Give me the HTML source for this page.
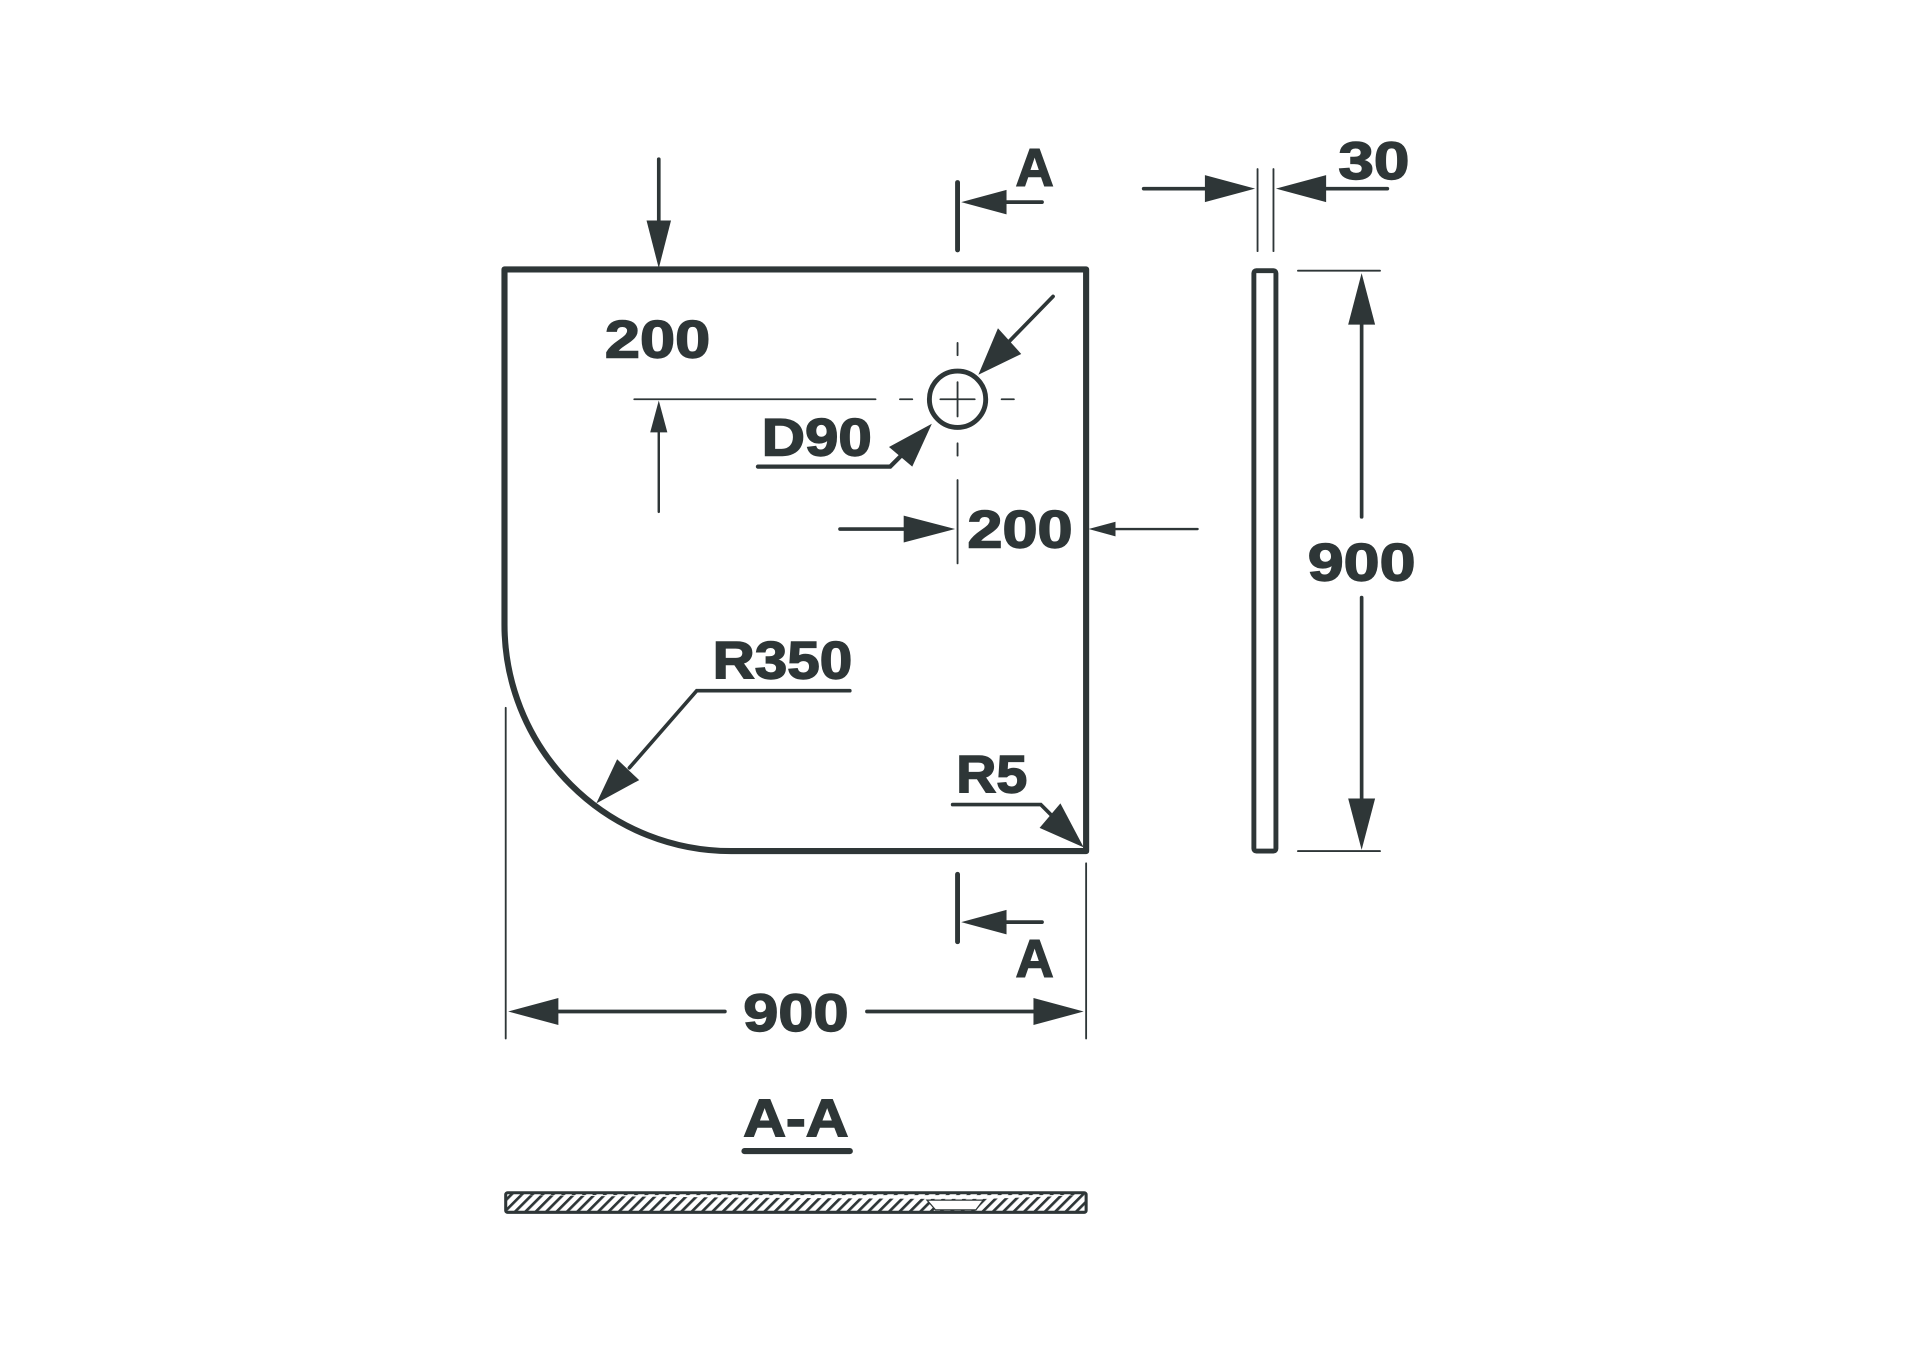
<!DOCTYPE html>
<html><head><meta charset="utf-8"><style>
html,body{margin:0;padding:0;background:#fff}
svg{display:block}
text{font-family:"Liberation Sans",sans-serif;font-weight:bold;fill:#2e3637;stroke:#2e3637;stroke-width:1.2;text-anchor:middle}
</style></head><body>
<svg width="1920" height="1352" viewBox="0 0 1568 1104" xmlns="http://www.w3.org/2000/svg">
<defs>
<pattern id="h" width="6" height="6" patternUnits="userSpaceOnUse" patternTransform="rotate(45)">
<rect width="6" height="6" fill="#fff"/><rect width="2.2" height="6" fill="#2e3637"/></pattern>
</defs>
<g stroke="#2e3637" fill="none" stroke-linecap="round">
<path d="M412,220 H887 V695 H597 A185,185 0 0 1 412,510 Z" stroke-width="5" stroke-linejoin="round"/>
<line x1="538" y1="130" x2="538" y2="182" stroke-width="3"/>
<line x1="518" y1="326" x2="715" y2="326" stroke-width="1.5"/>
<line x1="538" y1="350" x2="538" y2="418" stroke-width="2"/>
<circle cx="782" cy="326" r="23" stroke-width="4"/>
<line x1="768" y1="326" x2="796" y2="326" stroke-width="1.5"/>
<line x1="782" y1="312" x2="782" y2="340" stroke-width="1.5"/>
<g stroke-width="1.5"><line x1="735" y1="326" x2="745" y2="326"/><line x1="818" y1="326" x2="828" y2="326"/>
<line x1="782" y1="280" x2="782" y2="290"/><line x1="782" y1="362" x2="782" y2="372"/></g>
<line x1="860" y1="242" x2="823" y2="280" stroke-width="3"/>
<polyline points="619,381 727,381 742,366" stroke-width="3.5"/>
<line x1="686" y1="432" x2="740" y2="432" stroke-width="3"/>
<line x1="782" y1="392" x2="782" y2="460" stroke-width="1.5"/>
<line x1="910" y1="432" x2="978" y2="432" stroke-width="2"/>
<line x1="782" y1="149" x2="782" y2="204" stroke-width="4"/>
<line x1="818" y1="165" x2="851" y2="165" stroke-width="3"/>
<line x1="782" y1="714" x2="782" y2="769" stroke-width="4"/>
<line x1="818" y1="753" x2="851" y2="753" stroke-width="3"/>
<polyline points="694,564 569,564 514,627" stroke-width="3"/>
<polyline points="778,657 850,657 862,669" stroke-width="3"/>
<line x1="413" y1="578" x2="413" y2="848" stroke-width="1.5"/>
<line x1="887" y1="705" x2="887" y2="848" stroke-width="1.5"/>
<line x1="453" y1="826" x2="592" y2="826" stroke-width="3"/>
<line x1="708" y1="826" x2="847" y2="826" stroke-width="3"/>
<rect x="1024" y="221" width="18" height="474" rx="2" stroke-width="4"/>
<line x1="1060" y1="221" x2="1127" y2="221" stroke-width="1.5"/>
<line x1="1060" y1="695" x2="1127" y2="695" stroke-width="1.5"/>
<line x1="1112" y1="262" x2="1112" y2="422" stroke-width="3"/>
<line x1="1112" y1="488" x2="1112" y2="655" stroke-width="3"/>
<line x1="1027" y1="138" x2="1027" y2="205" stroke-width="1.5"/>
<line x1="1040" y1="138" x2="1040" y2="205" stroke-width="1.5"/>
<line x1="934" y1="154" x2="986" y2="154" stroke-width="3"/>
<line x1="1082" y1="154" x2="1133" y2="154" stroke-width="3"/>
<line x1="608" y1="940" x2="694" y2="940" stroke-width="5"/>
</g>
<g fill="#2e3637">
<polygon points="538,219 528,180 548,180"/>
<polygon points="538,327 531,353 545,353"/>
<polygon points="799,306 815,268 834,289"/>
<polygon points="761,346 726,365 745,381"/>
<polygon points="780,432 738,421 738,443"/>
<polygon points="889,432 911,426 911,438"/>
<polygon points="785,165 822,155 822,175"/>
<polygon points="785,753 822,743 822,763"/>
<polygon points="487,656 504,620 522,637"/>
<polygon points="885,692 849,676 866,656"/>
<polygon points="415,826 456,815 456,837"/>
<polygon points="885,826 844,815 844,837"/>
<polygon points="1112,223 1101,265 1123,265"/>
<polygon points="1112,694 1101,652 1123,652"/>
<polygon points="1025,154 984,143 984,165"/>
<polygon points="1042,154 1083,143 1083,165"/>
</g>
<rect x="413" y="974" width="474" height="16" fill="url(#h)" stroke="#2e3637" stroke-width="2.5" rx="1.5"/>
<polygon points="420,976 880,976 860,977 805,979 760,979 600,978" fill="#fff"/>
<polygon points="757,980 803,980 797,988 764,988" fill="#fff" stroke="#2e3637" stroke-width="1"/>
<g font-size="43">
<text x="537" y="292" textLength="86" lengthAdjust="spacingAndGlyphs">200</text>
<text x="667" y="372" textLength="90" lengthAdjust="spacingAndGlyphs">D90</text>
<text x="833" y="447" textLength="86" lengthAdjust="spacingAndGlyphs">200</text>
<text x="845" y="152">A</text>
<text x="845" y="798">A</text>
<text x="639" y="554" textLength="114" lengthAdjust="spacingAndGlyphs">R350</text>
<text x="810" y="647" textLength="58" lengthAdjust="spacingAndGlyphs">R5</text>
<text x="650" y="842" textLength="86" lengthAdjust="spacingAndGlyphs">900</text>
<text x="1112" y="474" textLength="88" lengthAdjust="spacingAndGlyphs">900</text>
<text x="1122" y="146" textLength="58" lengthAdjust="spacingAndGlyphs">30</text>
<text x="650" y="928" textLength="86" lengthAdjust="spacingAndGlyphs">A-A</text>
</g>
</svg>
</body></html>
